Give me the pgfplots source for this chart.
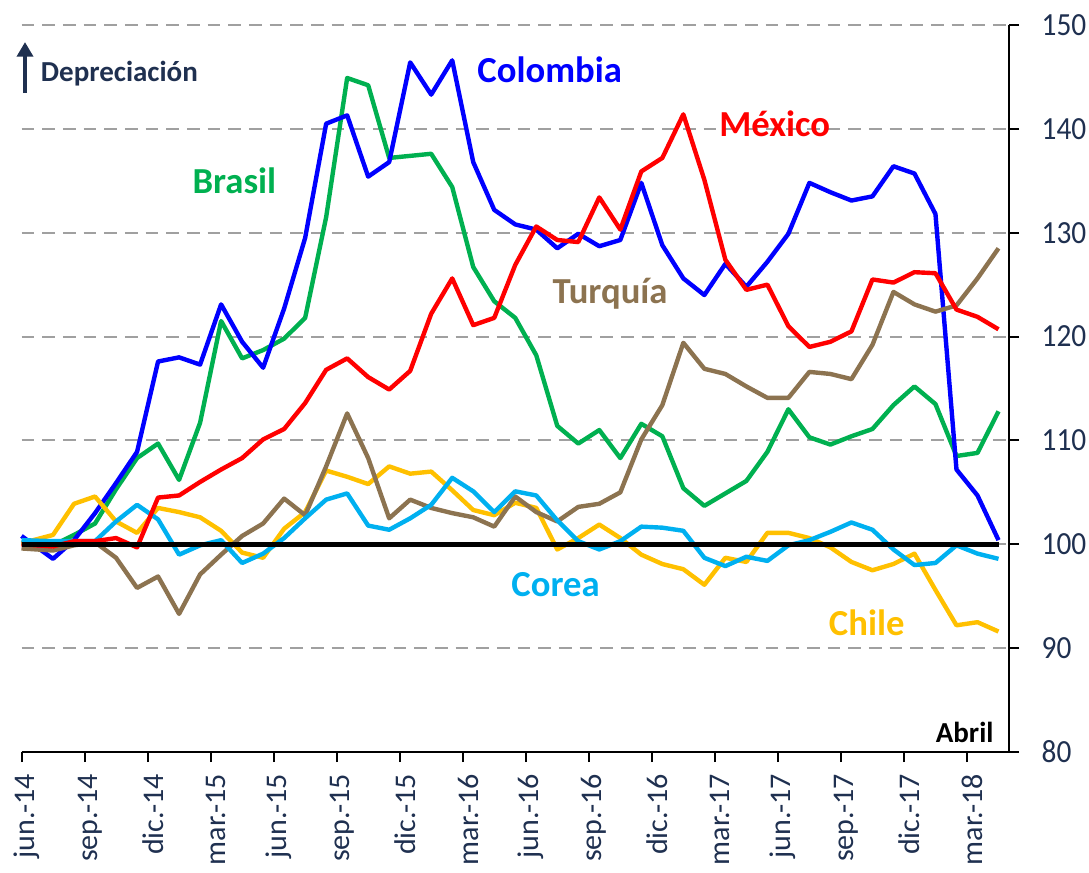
\documentclass[border=0pt]{standalone}
\usepackage{pgfplots}
\pgfplotsset{compat=1.18}
\usepackage{pgfplotstable}
\usepackage{graphicx}
\usepackage{fontspec}
\setmainfont{Carlito}
\usetikzlibrary{arrows.meta}
\definecolor{cCol}{HTML}{0000FF}
\definecolor{cBra}{HTML}{00B050}
\definecolor{cMex}{HTML}{FF0000}
\definecolor{cTur}{HTML}{8C7350}
\definecolor{cChi}{HTML}{FFC000}
\definecolor{cCor}{HTML}{00B0F0}
\definecolor{navy}{HTML}{1F3050}
\definecolor{gridgray}{HTML}{A0A0A0}

\pgfplotstableread{
m    col   bra   mex   tur   chi   cor
0    100.8 100.1 100.0 99.6  100.1 100.4
1.5  98.6  99.9  99.8  99.4  100.9 100.3
2.5  100.4 100.9 100.3 99.9  103.9 100.3
3.5  103.0 102.0 100.3 100.2 104.6 100.3
4.5  105.9 105.3 100.6 98.7  102.2 102.2
5.5  108.9 108.3 99.7  95.8  101.1 103.8
6.5  117.6 109.7 104.5 96.9  103.5 102.4
7.5  118.0 106.2 104.7 93.3  103.1 99.0
8.5  117.3 111.7 106.0 97.1  102.6 99.9
9.5  123.1 121.5 107.2 99.0  101.3 100.4
10.5 119.5 117.9 108.3 100.8 99.2  98.2
11.5 117.0 118.7 110.1 102.0 98.7  99.1
12.5 122.7 119.8 111.1 104.4 101.5 100.6
13.5 129.5 121.8 113.6 102.8 103.1 102.5
14.5 140.5 131.5 116.8 107.5 107.1 104.3
15.5 141.3 144.9 117.9 112.6 106.5 104.9
16.5 135.4 144.2 116.1 108.3 105.8 101.8
17.5 136.8 137.2 114.9 102.5 107.5 101.4
18.5 146.4 137.4 116.7 104.3 106.8 102.5
19.5 143.3 137.6 122.2 103.5 107.0 103.8
20.5 146.6 134.4 125.6 103.0 105.2 106.4
21.5 136.8 126.7 121.1 102.6 103.3 105.1
22.5 132.2 123.4 121.8 101.7 102.8 103.1
23.5 130.8 121.8 126.9 104.6 104.0 105.1
24.5 130.3 118.2 130.6 103.1 103.5 104.7
25.5 128.5 111.4 129.3 102.2 99.5  102.3
26.5 129.9 109.7 129.1 103.6 100.6 100.3
27.5 128.7 111.0 133.4 103.9 101.9 99.5
28.5 129.3 108.3 130.3 105.0 100.6 100.3
29.5 134.8 111.6 135.9 110.1 99.0  101.7
30.5 128.8 110.4 137.2 113.4 98.1  101.6
31.5 125.6 105.4 141.4 119.4 97.6  101.3
32.5 124.0 103.7 135.1 116.9 96.1  98.7
33.5 127.0 104.9 127.4 116.4 98.7  97.9
34.5 124.8 106.1 124.5 115.2 98.3  98.8
35.5 127.2 108.9 125.0 114.1 101.1 98.4
36.5 129.9 113.0 121.0 114.1 101.1 99.9
37.5 134.8 110.3 119.0 116.6 100.6 100.4
38.5 133.9 109.6 119.5 116.4 99.7  101.2
39.5 133.1 110.4 120.5 115.9 98.3  102.1
40.5 133.5 111.1 125.5 119.2 97.5  101.4
41.5 136.4 113.4 125.2 124.3 98.1  99.5
42.5 135.7 115.2 126.2 123.1 99.1  98.0
43.5 131.8 113.5 126.1 122.4 95.6  98.2
44.5 107.2 108.5 122.6 123.0 92.2  99.9
45.5 104.7 108.8 121.9 125.6 92.5  99.1
46.5 100.4 112.8 120.7 128.5 91.6  98.6
}\datatable

\begin{document}
\begin{tikzpicture}
\useasboundingbox (-16.125pt,-90pt) rectangle (800.625pt,564pt);
\clip (-16.125pt,-90pt) rectangle (800.625pt,564pt);
\begin{axis}[
  scale only axis,
  width=740.625pt, height=545.25pt,
  xmin=0, xmax=47, ymin=80, ymax=150,
  clip=false,
  axis x line*=bottom,
  axis y line*=right,
  axis line style={black, line width=1.5pt},
  xtick={0,3,...,45},
  xticklabels={jun.-14,sep.-14,dic.-14,mar.-15,jun.-15,sep.-15,dic.-15,mar.-16,jun.-16,sep.-16,dic.-16,mar.-17,jun.-17,sep.-17,dic.-17,mar.-18},
  ytick={80,90,...,150},
  yticklabel={\scalebox{1}[1.1]{\pgfmathprintnumber{\tick}}},
  tick align=outside,
  major tick length=7.5pt,
  tick style={black, line width=1.5pt},
  ymajorgrids,
  grid style={gridgray, line width=1.5pt, dash pattern=on 9.5pt off 6pt},
  /pgf/number format/assume math mode=true,
  ticklabel style={font=\fontsize{22.5}{26}\selectfont, text=navy},
  xticklabel style={rotate=90, anchor=east, yshift=-4pt},
  xticklabel shift=5.5pt,
  yticklabel style={anchor=west, font=\fontsize{22}{26}\selectfont},
  yticklabel shift=13.5pt,
  every axis plot/.append style={line width=3.3pt, line join=round, no markers},
]
\addplot[cBra] table[x=m, y=bra] {\datatable};
\addplot[cCol] table[x=m, y=col] {\datatable};
\addplot[cChi] table[x=m, y=chi] {\datatable};
\addplot[cTur] table[x=m, y=tur] {\datatable};
\addplot[cCor] table[x=m, y=cor] {\datatable};
\addplot[cMex] table[x=m, y=mex] {\datatable};
\addplot[black, line width=3.75pt] coordinates {(0,100) (46.5,100)};

\node[anchor=base, text=cCol, font=\fontsize{27.5}{30}\selectfont\bfseries] at (axis cs:25.14,144.51) {Colombia};
\node[anchor=base, text=cMex, font=\fontsize{27.5}{30}\selectfont\bfseries] at (axis cs:35.85,139.22) {México};
\node[anchor=base, text=cBra, font=\fontsize{27.5}{30}\selectfont\bfseries] at (axis cs:10.13,133.82) {Brasil};
\node[anchor=base, text=cTur, font=\fontsize{27.5}{30}\selectfont\bfseries] at (axis cs:28.01,123.2) {Turquía};
\node[anchor=base, text=cCor, font=\fontsize{27.5}{30}\selectfont\bfseries] at (axis cs:25.42,94.93) {Corea};
\node[anchor=base, text=cChi, font=\fontsize{27.5}{30}\selectfont\bfseries] at (axis cs:40.23,91.2) {Chile};
\node[anchor=base, text=navy, font=\fontsize{21.75}{24}\selectfont\bfseries] at (axis cs:4.66,144.6) {Depreciación};
\node[anchor=base, text=black, font=\fontsize{21.75}{24}\selectfont\bfseries] at (axis cs:44.89,80.93) {Abril};
\draw[navy, line width=3pt, -{Triangle[width=12pt,length=11pt]}] (axis cs:0.167,143.45) -- (axis cs:0.167,148.36);
\end{axis}
\end{tikzpicture}
\end{document}
